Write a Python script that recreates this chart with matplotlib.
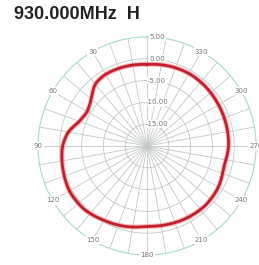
import numpy as np
import matplotlib.pyplot as plt

# pattern (deg counterclockwise from top, dB)
angles = [0, 15, 30, 40, 50, 60, 70, 80, 90, 105, 120, 135, 150, 165,
          180, 195, 210, 225, 240, 255, 270, 285, 300, 315, 330, 345, 360]
gain = [-1.3, -1.1, -1.0, -1.4, -3.4, -4.3, -3.6, -1.6, -0.6, 0.0, 0.6, 0.5,
        -0.3, -0.9, -1.6, -1.4, -1.1, -0.9, -1.1, -1.8, -1.3, -1.2, -1.1,
        -0.9, -0.8, -1.0, -1.3]
ring_vals = [5, 0, -5, -10, -15]
ring_labels = ["5.00", "0.00", "-5.00", "-10.00", "-15.00"]
angle_ticks = [30, 60, 90, 120, 150, 180, 210, 240, 270, 300, 330]

fig = plt.figure(figsize=(2.59, 2.65), dpi=100)
ax = fig.add_axes([0.1467, 0.0377, 0.842, 0.823], projection='polar')
ax.set_theta_zero_location('N')
ax.set_theta_direction(1)
ax.set_ylim(-20, 5)

# smooth closed curve through the read points
th = np.deg2rad(angles)
t_fine = np.linspace(0, 2 * np.pi, 721)
ext_t = np.concatenate([th[:-1] - 2 * np.pi, th, th[1:] + 2 * np.pi])
ext_g = np.concatenate([gain[:-1], gain, gain[1:]])
g_fine = np.interp(t_fine, ext_t, ext_g)
k = np.ones(15) / 15
g_pad = np.concatenate([g_fine[-8:-1], g_fine, g_fine[1:8]])
g_smooth = np.convolve(g_pad, k, mode='same')[7:-7]

ax.plot(t_fine, g_smooth, color='#f08a90', lw=3.6, alpha=0.6)
ax.plot(t_fine, g_smooth, color='#c41e2e', lw=2.0)

ax.set_xticks(np.deg2rad(np.arange(0, 360, 10)))
ax.set_xticklabels([])
ax.set_yticks(ring_vals[1:])
ax.set_yticklabels([])
ax.grid(True, color='#c4c8c8', lw=0.6)
ax.spines['polar'].set_color('#a8d8d2')
ax.spines['polar'].set_linewidth(0.8)

for v, lab in zip(ring_vals, ring_labels):
    ax.annotate(lab, xy=(0, v), xytext=(10, 0), textcoords='offset pixels',
                ha='center', va='center', fontsize=5, color='#777777',
                bbox=dict(boxstyle='square,pad=0.1', fc='white', ec='none'))

for a in angle_ticks:
    ax.text(np.deg2rad(a), 5, str(a), ha='center', va='center', fontsize=5,
            color='#777777',
            bbox=dict(boxstyle='square,pad=0.15', fc='white', ec='none'))

fig.text(0.055, 0.945, "930.000MHz  H", fontsize=13, fontweight='bold',
         family='Liberation Sans', va='center', ha='left', color='#222222')

fig.savefig('out.png', dpi=100)
